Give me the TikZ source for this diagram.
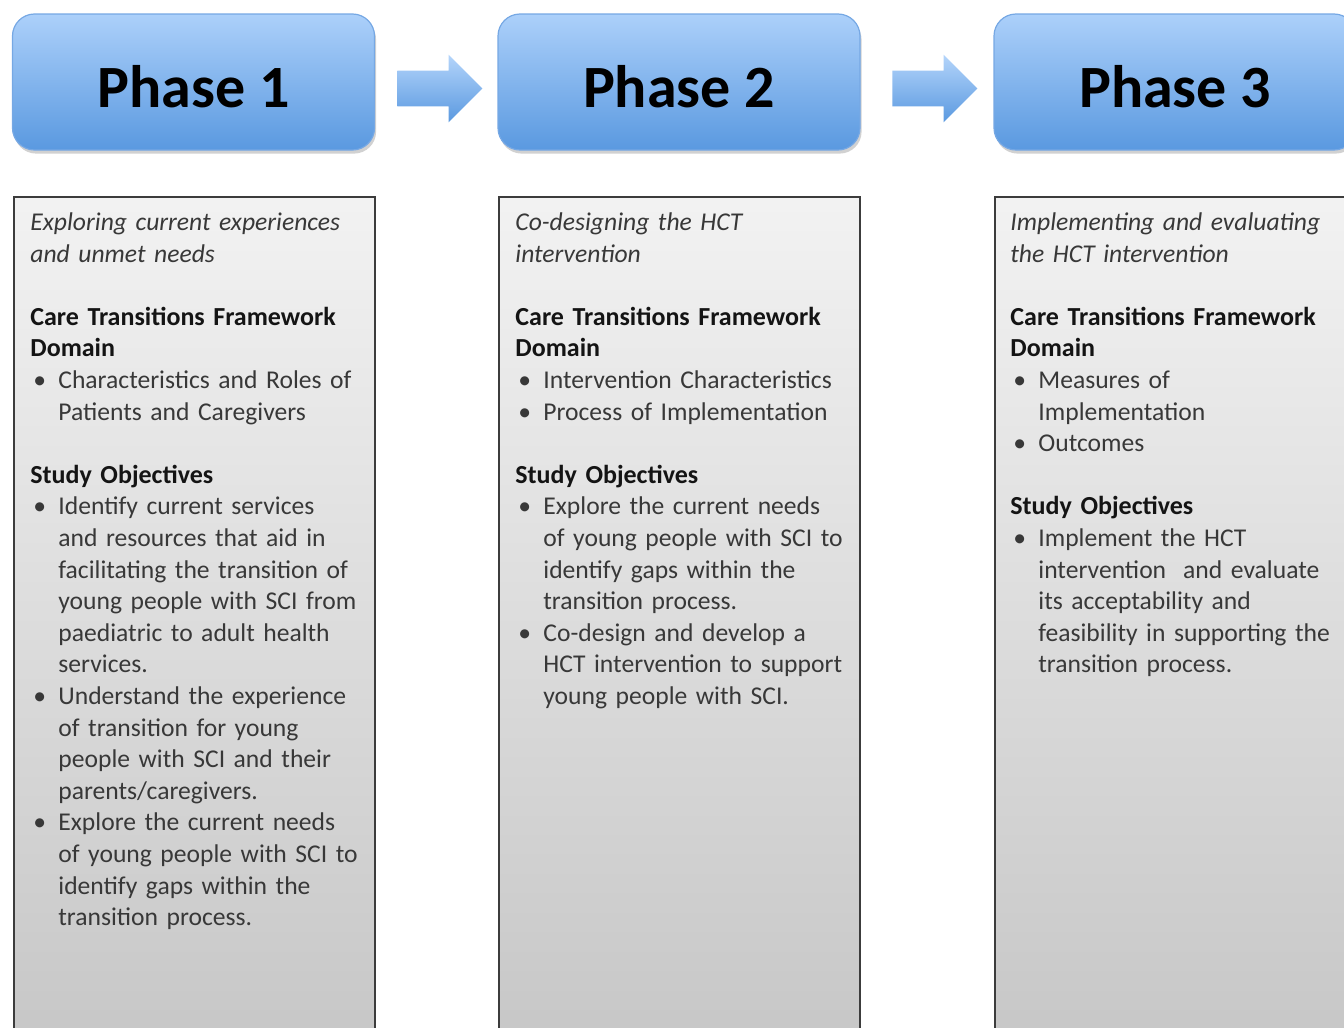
\documentclass[tikz,border=0pt]{standalone}
\usepackage{fontspec}
\setmainfont{Carlito}
\usetikzlibrary{calc,shapes.arrows,shadows}
\definecolor{phasetop}{RGB}{172,208,250}
\definecolor{phasebot}{RGB}{90,153,224}
\definecolor{phaseedge}{RGB}{118,168,228}
\definecolor{boxedge}{RGB}{60,60,60}
\newcommand{\bul}{\makebox[14pt][l]{\hspace{1.5pt}\textbullet}}
\newcommand{\ind}{\hspace*{14pt}}
\newcommand{\hd}[1]{{\fontsize{13}{15.8}\selectfont\textbf{\color{black!92}#1}}}
\tikzset{
  phasebox/.style={draw=phaseedge, line width=0.6pt, rounded corners=11pt,
    top color=phasetop, bottom color=phasebot,
    minimum width=181pt, minimum height=68pt,
    text height=25.5pt, text depth=0pt,
    font=\fontsize{30}{36}\selectfont\bfseries,
    drop shadow={shadow xshift=0.8pt, shadow yshift=-1.8pt, opacity=0.3, fill=black!60}},
  blockarrow/.style={single arrow, draw=none, inner xsep=0pt, inner ysep=8.75pt,
    top color=phasetop!90!white, bottom color=phasebot,
    minimum height=42.5pt,
    single arrow head extend=8pt, single arrow head indent=0pt},
  contentbox/.style={draw=boxedge, line width=0.9pt, anchor=north west,
    top color=black!5, bottom color=black!22,
    minimum width=180.5pt, minimum height=422pt},
  contenttext/.style={anchor=north west, inner sep=0pt, text width=178pt,
    align=left, text=black!78, font=\fontsize{12.8}{15.8}\selectfont}
}
\begin{document}
\begin{tikzpicture}[x=0.5pt,y=-0.5pt]
  %%%%% START %%%%%
  \useasboundingbox (0,0) rectangle (1344,1028);
  \clip (0,0) rectangle (1344,1028);

  % phases
  \node[phasebox] (p1) at (193.5,82) {Phase 1};
  \node[phasebox] (p2) at (679,82) {Phase 2};
  \node[phasebox] (p3) at (1175,82) {Phase 3};

  \node[blockarrow] (a12) at (431,88.5) {};
  \node[blockarrow] (a23) at (926,88.5) {};

  % boxes
  \node[contentbox] (box1) at (13,196) {};
  \node[contentbox] (box2) at (498,196) {};
  \node[contentbox] (box3) at (994,196) {};

  \node[contenttext] (t1) at ($(box1.north west)+(17,12)$) {\strut{\itshape Exploring current experiences\\
    and unmet needs}\\
    \mbox{}\\
    \hd{Care Transitions Framework}\\
    \hd{Domain}\\
    \bul Characteristics and Roles of\\
    \ind Patients and Caregivers\\
    \mbox{}\\
    \hd{Study Objectives}\\
    \bul Identify current services\\
    \ind and resources that aid in\\
    \ind facilitating the transition of\\
    \ind young people with SCI from\\
    \ind paediatric to adult health\\
    \ind services.\\
    \bul Understand the experience\\
    \ind of transition for young\\
    \ind people with SCI and their\\
    \ind parents/caregivers.\\
    \bul Explore the current needs\\
    \ind of young people with SCI to\\
    \ind identify gaps within the\\
    \ind transition process.};

  \node[contenttext] (t2) at ($(box2.north west)+(17,12)$) {\strut{\itshape Co-designing the HCT\\
    intervention}\\
    \mbox{}\\
    \hd{Care Transitions Framework}\\
    \hd{Domain}\\
    \bul Intervention Characteristics\\
    \bul Process of Implementation\\
    \mbox{}\\
    \hd{Study Objectives}\\
    \bul Explore the current needs\\
    \ind of young people with SCI to\\
    \ind identify gaps within the\\
    \ind transition process.\\
    \bul Co-design and develop a\\
    \ind HCT intervention to support\\
    \ind young people with SCI.};

  \node[contenttext] (t3) at ($(box3.north west)+(16,12)$) {\strut{\itshape Implementing and evaluating\\
    the HCT intervention}\\
    \mbox{}\\
    \hd{Care Transitions Framework}\\
    \hd{Domain}\\
    \bul Measures of\\
    \ind Implementation\\
    \bul Outcomes\\
    \mbox{}\\
    \hd{Study Objectives}\\
    \bul Implement the HCT\\
    \ind intervention\ \ and evaluate\\
    \ind its acceptability and\\
    \ind feasibility in supporting the\\
    \ind transition process.};
  %%%%% END %%%%%
\end{tikzpicture}
\end{document}
